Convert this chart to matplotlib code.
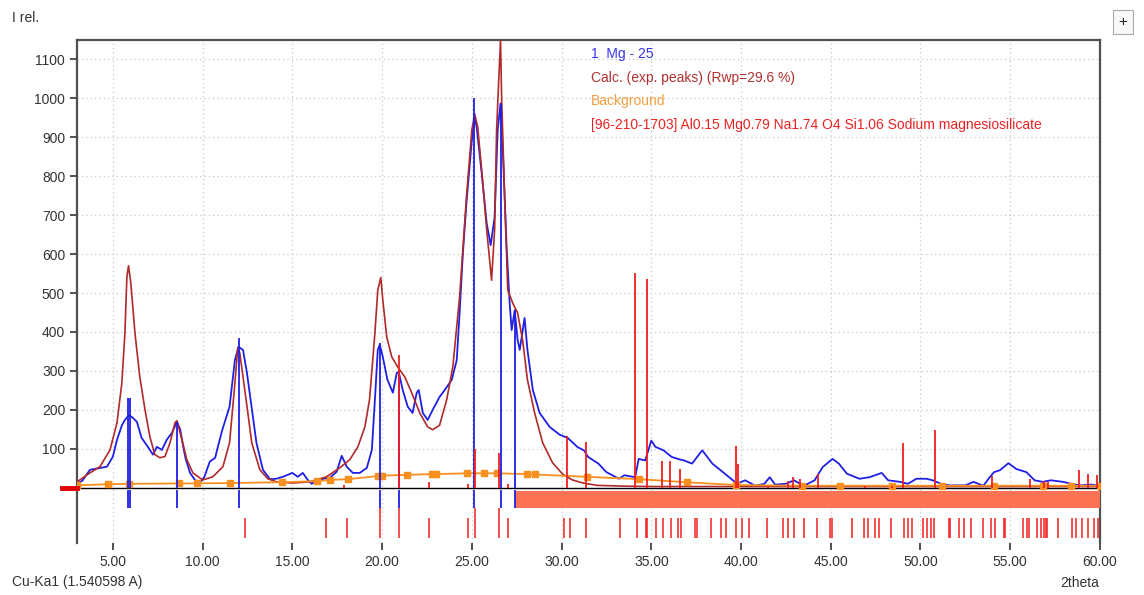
"""XRD pattern plot: observed Mg-25 pattern, calculated fit, background and phase sticks."""

import matplotlib
matplotlib.use("Agg")
import matplotlib.pyplot as plt
from matplotlib.patches import Rectangle

plt.rcParams["font.family"] = ["Liberation Sans", "DejaVu Sans"]

# observed pattern (1 Mg - 25)
obs_x = [3.0, 3.3, 3.72, 4.2, 4.67, 5.0, 5.23, 5.5, 5.67, 5.9, 6.1, 6.34, 6.6, 6.95,
         7.23, 7.45, 7.73, 8.0, 8.29, 8.57, 8.75, 8.9, 9.05, 9.3, 9.57, 9.85, 10.1,
         10.4, 10.7, 10.85, 11.1, 11.5, 11.8, 12.0, 12.25, 12.47, 12.75, 13.0, 13.36,
         13.75, 14.1, 14.47, 15.0, 15.3, 15.58, 15.86, 16.08, 16.4, 17.1, 17.47, 17.75,
         18.03, 18.37, 18.76, 19.15, 19.43, 19.6, 19.76, 19.87, 20.04, 20.3, 20.6,
         20.82, 20.93, 21.15, 21.43, 21.7, 21.93, 22.04, 22.27, 22.54, 22.82, 23.2,
         23.49, 23.88, 24.16, 24.32, 24.5, 24.7, 25.0, 25.16, 25.27, 25.55, 25.83,
         26.05, 26.27, 26.44, 26.6, 26.72, 26.94, 27.1, 27.22, 27.39, 27.55, 27.67,
         27.94, 28.1, 28.4, 28.78, 29.34, 29.9, 30.34, 30.9, 31.25, 31.48, 32.05,
         32.5, 33.2, 33.5, 34.1, 34.3, 34.66, 35.0, 35.23, 35.68, 36.14, 36.48, 36.82,
         37.27, 37.84, 38.4, 38.86, 39.55, 39.77, 40.23, 40.8, 41.3, 41.6, 41.9, 42.5,
         42.95, 43.5, 44.1, 44.55, 45.1, 45.45, 45.9, 46.6, 47.16, 47.84, 48.2, 48.86,
         49.3, 49.77, 50.34, 50.68, 51.14, 51.6, 52.5, 52.95, 53.5, 53.86, 54.1, 54.43,
         54.9, 55.34, 55.9, 56.36, 56.8, 57.27, 57.95, 58.4, 58.86, 59.5, 60.0]
obs_y = [10, 18, 46, 50, 54, 80, 123, 160, 174, 187, 180, 169, 128, 105,
         85, 105, 97, 123, 141, 169, 150, 110, 75, 38, 20, 13, 28,
         67, 77, 105, 149, 208, 328, 362, 354, 295, 200, 115, 46,
         22, 23, 28, 38, 28, 38, 20, 10, 20, 26, 41, 82,
         54, 38, 38, 51, 97, 226, 354, 367, 336, 277, 244,
         295, 297, 251, 208, 192, 244, 251, 192, 174, 200, 233,
         251, 277, 328, 449, 600, 731, 892, 951, 926, 808, 679,
         623, 695, 918, 987, 874, 618, 480, 405, 456, 380, 354,
         436, 354, 251, 192, 156, 136, 128, 104, 96, 79, 62,
         40, 23, 32, 27, 74, 70, 121, 105, 96, 79, 74, 70,
         62, 96, 62, 45, 19, 10, 19, 5, 10, 27, 8, 10,
         19, 5, 19, 53, 74, 62, 36, 23, 27, 38, 19, 15,
         10, 23, 23, 19, 10, 6, 6, 15, 5, 27, 40, 45,
         63, 48, 40, 19, 15, 19, 15, 10, 6, 8, 5]

# calculated pattern (exp. peaks)
calc_x = [3.0, 3.72, 4.28, 4.84, 5.23, 5.5, 5.67, 5.78, 5.87, 6.0, 6.23, 6.5, 6.79,
          7.06, 7.34, 7.62, 7.9, 8.18, 8.46, 8.57, 8.85, 9.12, 9.46, 10.0, 10.57,
          11.13, 11.5, 11.8, 11.96, 12.07, 12.35, 12.74, 13.19, 13.63, 14.13, 15.0,
          15.97, 16.9, 17.64, 18.2, 18.65, 19.04, 19.3, 19.6, 19.76, 19.93, 20.04,
          20.26, 20.54, 20.87, 21.26, 21.65, 22.1, 22.54, 22.82, 23.2, 23.6, 23.94,
          24.32, 24.7, 25.0, 25.16, 25.33, 25.55, 25.83, 26.1, 26.27, 26.38, 26.5,
          26.6, 26.66, 26.83, 27.0, 27.28, 27.55, 27.83, 28.1, 28.5, 28.95, 29.5,
          30.06, 30.6, 31.2, 32.0, 33.5, 35.0, 60.0]
calc_y = [15, 38, 54, 97, 167, 269, 397, 541, 570, 526, 397, 285, 200,
          131, 85, 77, 80, 115, 167, 172, 123, 72, 38, 20, 28,
          54, 115, 269, 360, 346, 251, 115, 46, 23, 15, 12,
          15, 28, 51, 72, 105, 156, 226, 397, 508, 540, 482,
          387, 336, 310, 285, 244, 192, 156, 149, 160, 226, 310,
          490, 746, 918, 960, 926, 815, 662, 533, 662, 918, 1046,
          1150, 1003, 746, 508, 474, 449, 379, 277, 192, 115, 64,
          35, 20, 12, 6, 4, 3, 3]

# background
bg_x = [3.0, 4.7, 5.9, 8.66, 9.7, 11.5, 14.4, 16.4, 17.1, 18.1, 19.8, 20.0, 21.4,
        22.8, 23.0, 24.75, 25.7, 26.4, 28.1, 28.5, 31.4, 34.3, 37.0, 39.7, 43.4,
        45.5, 48.4, 51.2, 54.1, 56.8, 58.4, 60.0]
bg_y = [6, 9, 10, 11, 11, 12, 14, 17, 20, 22, 30, 31, 33,
        35, 35, 37, 37, 37, 35, 34, 28, 22, 14, 7, 5,
        5, 5, 5, 5, 5, 5, 5]

# experimental peak positions
exp_pk_x = [5.87, 5.93, 8.6, 12.0, 19.9, 20.93, 25.1, 26.6, 27.4]
exp_pk_h = [230, 230, 170, 385, 372, 300, 1000, 985, 456]

# reference phase [96-210-1703] stick pattern above the baseline
ref_x = [17.9, 20.96, 22.64, 24.77, 25.15, 26.53, 27.0, 30.3, 31.35, 34.12, 34.75,
         35.6, 36.07, 36.6, 39.7, 39.85, 41.5, 42.6, 42.9, 43.3, 44.3, 46.9, 48.4,
         49.05, 50.83, 54.0, 56.1, 56.9, 57.1, 58.85, 59.35, 59.85]
ref_h = [8, 340, 15, 10, 100, 90, 10, 132, 118, 551, 537,
         69, 69, 49, 108, 60, 5, 18, 28, 22, 36, 5, 5,
         115, 149, 30, 22, 18, 15, 46, 36, 33]

# reference phase tick marks under the baseline
ref_tick_x = [12.38, 16.87, 18.04, 22.64, 24.77, 27.02, 30.15, 30.47, 31.39, 33.25,
              34.18, 34.68, 34.75, 35.25, 35.67, 36.1, 36.47, 36.68, 37.45, 37.55,
              38.35, 38.9, 39.14, 39.74, 40.06, 40.43, 41.46, 42.36, 42.63, 42.96,
              43.53, 44.24, 44.98, 45.05, 46.17, 46.87, 47.1, 47.45, 47.7, 48.35,
              49.06, 49.3, 49.55, 50.13, 50.34, 50.56, 50.77, 51.6, 51.66, 52.16,
              52.42, 52.8, 53.49, 53.92, 54.13, 54.66, 54.72, 55.7, 55.91, 56.02,
              56.49, 56.7, 56.9, 56.98, 57.05, 57.69, 58.44, 58.69, 59.0, 59.34,
              59.66, 59.87]
ref_strong_x = [19.9, 20.96, 25.15, 26.53]

# excluded region bar
excl_start, excl_end = 27.4, 60.0

BLUE = "#1f1fe6"
CALC = "#b02a2a"
RED = "#f02020"
ORANGE = "#f7901e"
SALMON = "#fb7352"
TXT = "#333333"

fig = plt.figure(figsize=(11.44, 5.95), dpi=100)
ax = fig.add_axes([0.0673, 0.0874, 0.8942, 0.8454])
ax.set_xlim(3, 60)
ax.set_ylim(-142, 1150)

ax.set_xticks(range(5, 61, 5))
ax.set_xticklabels([f"{v:.2f}" for v in range(5, 61, 5)])
ax.set_yticks(range(100, 1101, 100))
ax.grid(True, color="#c8c8c8", linestyle=(0, (1, 2.5)), linewidth=0.9)
ax.set_axisbelow(True)
ax.tick_params(labelsize=10, colors=TXT, length=5, width=1.2)

for side in ("top", "left", "right"):
    ax.spines[side].set_color("#505050")
    ax.spines[side].set_linewidth(1.6)
ax.spines["bottom"].set_visible(False)

ax.axhline(0, color="black", lw=1.0, zorder=2)
ax.plot([2.15, 3.0], [0, 0], color="#e00000", lw=3.5, clip_on=False, zorder=5)

ax.plot(obs_x, obs_y, color=BLUE, lw=1.3, zorder=3)
ax.plot(calc_x, calc_y, color=CALC, lw=1.2, zorder=4)
ax.plot(bg_x, bg_y, color=ORANGE, lw=1.3, marker="s", ms=4, zorder=4)

ax.vlines(exp_pk_x, 0, exp_pk_h, color=BLUE, lw=1.3, zorder=5)
ax.vlines(ref_x, 0, ref_h, color=RED, lw=1.3, zorder=6)

# markers below the baseline
ax.vlines(exp_pk_x, -5, -52, color=BLUE, lw=1.3, zorder=5)
ax.add_patch(Rectangle((excl_start, -52), excl_end - excl_start, 44,
                       color=SALMON, lw=0, zorder=4))
ax.vlines(ref_tick_x, -78, -130, color=RED, lw=1.1, zorder=5)
ax.vlines(ref_strong_x, -52, -130, color=RED, lw=1.1, zorder=5)

# legend texts
leg = [("1  Mg - 25", "#3535e8"),
       ("Calc. (exp. peaks) (Rwp=29.6 %)", "#b03030"),
       ("Background", "#f5a040"),
       ("[96-210-1703] Al0.15 Mg0.79 Na1.74 O4 Si1.06 Sodium magnesiosilicate", "#ee2222")]
for i, (txt, col) in enumerate(leg):
    fig.text(591 / 1144, 1 - (54 + i * 23.7) / 595, txt, color=col, fontsize=10,
             va="center", ha="left")

fig.text(12 / 1144, 1 - 18 / 595, "I rel.", fontsize=10, color=TXT, va="center")
fig.text(12 / 1144, 1 - 582 / 595, "Cu-Ka1 (1.540598 A)", fontsize=10, color=TXT,
         va="center")
fig.text(1060 / 1144, 1 - 583 / 595, "2theta", fontsize=10, color=TXT, va="center")
fig.text(1123 / 1144, 1 - 22 / 595, "+", fontsize=11, color="#222222", ha="center",
         va="center",
         bbox=dict(boxstyle="square,pad=0.35", fc="#f8f8f8", ec="#aaaaaa", lw=0.8))

fig.savefig("out.png", dpi=100)
